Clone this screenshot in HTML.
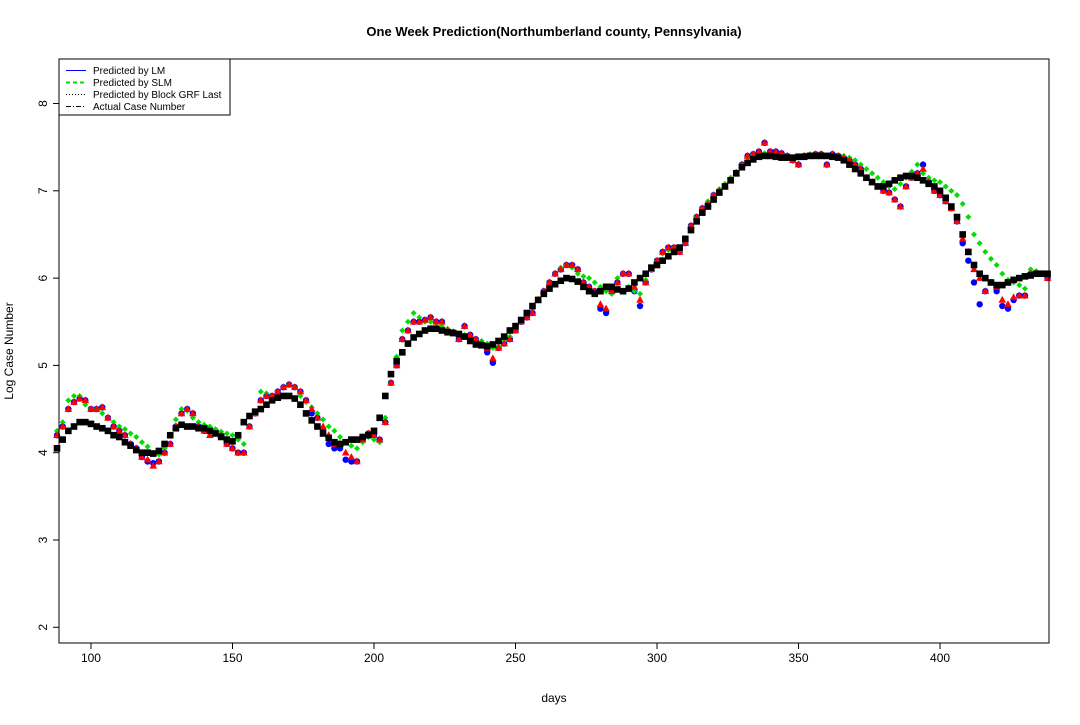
<!DOCTYPE html>
<html><head><meta charset="utf-8"><style>
body{margin:0;background:#fff;}
svg text{font-family:"Liberation Sans",Arial,sans-serif;}
</style></head><body>
<svg id="chart" width="1080" height="720" xmlns="http://www.w3.org/2000/svg">
<rect width="1080" height="720" fill="#fff"/>
<text x="554" y="36" text-anchor="middle" font-size="13" font-weight="bold">One Week Prediction(Northumberland county, Pennsylvania)</text>
<text x="554" y="702" text-anchor="middle" font-size="12">days</text>
<text transform="translate(13,351) rotate(-90)" text-anchor="middle" font-size="12">Log Case Number</text>
<g id="axes"></g>
<g id="marks"></g>
<rect x="59" y="59" width="990" height="584" fill="none" stroke="#000" stroke-width="1"/>
<g>
<rect x="59" y="59" width="171" height="56" fill="#fff" stroke="#000"/>
<line x1="66" y1="70.5" x2="86" y2="70.5" stroke="#0000ff"/>
<line x1="66" y1="82.5" x2="86" y2="82.5" stroke="#00dd00" stroke-width="2" stroke-dasharray="4,3"/>
<line x1="66" y1="94.5" x2="86" y2="94.5" stroke="#000" stroke-dasharray="1,2"/>
<line x1="66" y1="106.5" x2="86" y2="106.5" stroke="#000" stroke-dasharray="5,2,1,2"/>
<text x="93" y="74" font-size="10">Predicted by LM</text>
<text x="93" y="86" font-size="10">Predicted by SLM</text>
<text x="93" y="98" font-size="10">Predicted by Block GRF Last</text>
<text x="93" y="110" font-size="10">Actual Case Number</text>
</g>
</svg>
<script>
const startDay = 88, stepDays = 2;
const xTicks = [100,150,200,250,300,350,400];
const yTicks = [2,3,4,5,6,7,8];
const actual = [4.05,4.15,4.25,4.3,4.35,4.35,4.33,4.3,4.28,4.25,4.2,4.18,4.12,4.08,4.03,4.0,4.0,3.99,4.02,4.1,4.2,4.28,4.32,4.3,4.3,4.28,4.28,4.25,4.22,4.18,4.15,4.13,4.2,4.35,4.42,4.47,4.5,4.55,4.6,4.63,4.65,4.65,4.62,4.55,4.45,4.37,4.3,4.22,4.17,4.12,4.1,4.12,4.15,4.15,4.18,4.2,4.25,4.4,4.65,4.9,5.05,5.15,5.25,5.32,5.36,5.4,5.42,5.42,5.4,5.38,5.37,5.36,5.33,5.28,5.24,5.23,5.22,5.24,5.28,5.33,5.4,5.45,5.52,5.6,5.68,5.75,5.82,5.88,5.93,5.97,6.0,5.99,5.96,5.9,5.85,5.82,5.85,5.9,5.9,5.87,5.85,5.88,5.95,6.0,6.05,6.12,6.15,6.2,6.25,6.3,6.35,6.45,6.55,6.65,6.75,6.82,6.9,6.98,7.05,7.12,7.2,7.27,7.32,7.36,7.39,7.4,7.4,7.39,7.38,7.38,7.38,7.39,7.39,7.4,7.4,7.4,7.4,7.39,7.38,7.35,7.3,7.25,7.2,7.15,7.1,7.05,7.05,7.08,7.12,7.15,7.17,7.17,7.15,7.12,7.08,7.05,7.0,6.92,6.82,6.7,6.5,6.3,6.15,6.05,6.0,5.95,5.92,5.92,5.95,5.98,6.0,6.02,6.03,6.05,6.05,6.05];
const predGRF = [4.2,4.3,4.5,4.58,4.62,4.6,4.5,4.5,4.52,4.4,4.3,4.25,4.2,4.1,4.05,3.95,3.92,3.85,3.9,4.0,4.1,4.3,4.45,4.5,4.45,4.3,4.25,4.2,4.22,4.2,4.1,4.05,4.0,4.0,4.3,4.45,4.6,4.65,4.65,4.7,4.75,4.78,4.75,4.7,4.6,4.5,4.4,4.3,4.2,4.1,4.1,4.0,3.95,3.9,4.15,4.22,4.2,4.15,4.35,4.8,5.0,5.3,5.4,5.5,5.5,5.52,5.55,5.5,5.5,5.4,5.38,5.3,5.45,5.35,5.3,5.25,5.2,5.08,5.2,5.25,5.3,5.4,5.5,5.55,5.6,5.75,5.85,5.95,6.05,6.1,6.15,6.15,6.1,5.95,5.9,5.85,5.7,5.65,5.85,5.95,6.05,6.05,5.9,5.75,5.95,6.1,6.2,6.3,6.35,6.35,6.3,6.4,6.6,6.7,6.8,6.85,6.95,7.0,7.05,7.12,7.2,7.3,7.4,7.42,7.45,7.55,7.45,7.45,7.43,7.4,7.35,7.3,7.4,7.4,7.42,7.42,7.3,7.42,7.4,7.38,7.35,7.3,7.25,7.15,7.1,7.05,7.0,6.98,6.9,6.82,7.05,7.15,7.2,7.25,7.1,7.0,6.95,6.88,6.8,6.65,6.45,6.3,6.1,6.0,5.85,5.95,5.9,5.75,5.7,5.78,5.8,5.8,6.05,6.05,6.05,6.0];
const predSLM = [4.25,4.35,4.6,4.65,4.65,4.55,4.5,4.5,4.45,4.4,4.35,4.3,4.27,4.22,4.18,4.12,4.07,4.0,3.98,4.05,4.2,4.38,4.5,4.48,4.4,4.35,4.32,4.3,4.27,4.24,4.22,4.2,4.15,4.1,4.3,4.45,4.7,4.68,4.65,4.7,4.75,4.78,4.75,4.65,4.58,4.52,4.45,4.38,4.3,4.25,4.18,4.12,4.08,4.05,4.12,4.18,4.15,4.12,4.4,4.8,5.1,5.4,5.5,5.6,5.55,5.5,5.5,5.48,5.45,5.42,5.38,5.36,5.35,5.33,5.3,5.28,5.25,5.2,5.22,5.28,5.33,5.42,5.5,5.58,5.65,5.75,5.85,5.95,6.05,6.12,6.15,6.12,6.05,6.02,6.0,5.95,5.9,5.85,5.82,6.0,6.05,5.9,5.85,5.82,5.98,6.1,6.2,6.28,6.32,6.35,6.3,6.4,6.6,6.7,6.8,6.88,6.95,7.02,7.08,7.15,7.22,7.3,7.38,7.42,7.42,7.43,7.43,7.42,7.42,7.4,7.38,7.38,7.4,7.42,7.42,7.42,7.4,7.4,7.4,7.4,7.38,7.35,7.3,7.25,7.2,7.15,7.1,7.05,7.02,7.08,7.15,7.22,7.3,7.2,7.15,7.12,7.1,7.05,7.0,6.95,6.85,6.7,6.5,6.4,6.3,6.22,6.15,6.05,5.98,5.95,5.92,5.88,6.1,6.08,6.05,6.02];
const predLM = [4.2,4.3,4.5,4.58,4.62,4.6,4.5,4.5,4.52,4.4,4.3,4.25,4.2,4.1,4.05,3.95,3.9,3.88,3.9,4.0,4.1,4.3,4.45,4.5,4.45,4.3,4.25,4.25,4.25,4.2,4.1,4.05,4.0,4.0,4.3,4.45,4.6,4.65,4.65,4.7,4.75,4.78,4.75,4.7,4.6,4.45,4.4,4.25,4.1,4.05,4.05,3.92,3.9,3.9,4.15,4.22,4.2,4.15,4.35,4.8,5.0,5.3,5.4,5.5,5.5,5.52,5.55,5.5,5.5,5.4,5.38,5.3,5.45,5.35,5.3,5.25,5.15,5.03,5.2,5.25,5.3,5.4,5.5,5.55,5.6,5.75,5.85,5.95,6.05,6.1,6.15,6.15,6.1,5.95,5.9,5.85,5.65,5.6,5.85,5.95,6.05,6.05,5.85,5.68,5.95,6.1,6.2,6.3,6.35,6.35,6.3,6.4,6.6,6.7,6.8,6.85,6.95,7.0,7.05,7.12,7.2,7.3,7.4,7.42,7.45,7.55,7.45,7.45,7.43,7.4,7.35,7.3,7.4,7.4,7.42,7.42,7.3,7.42,7.4,7.38,7.35,7.3,7.25,7.15,7.1,7.05,7.0,6.98,6.9,6.82,7.05,7.15,7.2,7.3,7.1,7.0,6.95,6.88,6.8,6.65,6.4,6.2,5.95,5.7,5.85,5.95,5.85,5.68,5.65,5.75,5.8,5.8,6.05,6.05,6.05,6.0];

const X0=59,X1=1049,Y0=59,Y1=643;
const dMin=88.7,dMax=438.5,vMin=1.82,vMax=8.51;
function xs(d){return X0+(d-dMin)/(dMax-dMin)*(X1-X0);}
function ys(v){return Y1-(v-vMin)/(vMax-vMin)*(Y1-Y0);}
const NS="http://www.w3.org/2000/svg";
const axes=document.getElementById('axes');
const marks=document.getElementById('marks');
function mk(tag,attrs,parent){const e=document.createElementNS(NS,tag);for(const k in attrs)e.setAttribute(k,attrs[k]);parent.appendChild(e);return e;}
xTicks.forEach(t=>{
  const x=xs(t);
  const l=mk('line',{x1:x,x2:x,y1:Y1,y2:Y1+6,stroke:'#000'},axes);
  
  
  const tx=mk('text',{x:x,y:Y1+19,'text-anchor':'middle','font-size':'12'},axes);
  tx.textContent=t;
  
  
});
yTicks.forEach(t=>{
  const y=ys(t);
  const l=mk('line',{x1:X0-6,x2:X0,y1:y,y2:y,stroke:'#000'},axes);
  
  
  const tx=mk('text',{transform:`translate(${X0-12},${y}) rotate(-90)`,'text-anchor':'middle','font-size':'12'},axes);
  tx.textContent=t;
  
  
});
function day(i){return startDay+i*stepDays;}
predLM.forEach((v,i)=>{
  const c=mk('circle',{cx:xs(day(i)),cy:ys(v),r:3.2,fill:'#0000ff'},marks);
  
  
});
predSLM.forEach((v,i)=>{
  const x=xs(day(i)),y=ys(v);
  const c=mk('polygon',{points:`${x},${y-3} ${x+3},${y} ${x},${y+3} ${x-3},${y}`,fill:'#00dd00'},marks);
  
  
});
predGRF.forEach((v,i)=>{
  const x=xs(day(i)),y=ys(v);
  const c=mk('polygon',{points:`${x},${y-4} ${x+3.8},${y+2.8} ${x-3.8},${y+2.8}`,fill:'#ff0000'},marks);
  
  
});
actual.forEach((v,i)=>{
  const x=xs(day(i)),y=ys(v);
  const c=mk('rect',{x:x-3.3,y:y-3.3,width:6.6,height:6.6,fill:'#000'},marks);
  
  
});
</script>
</body></html>
